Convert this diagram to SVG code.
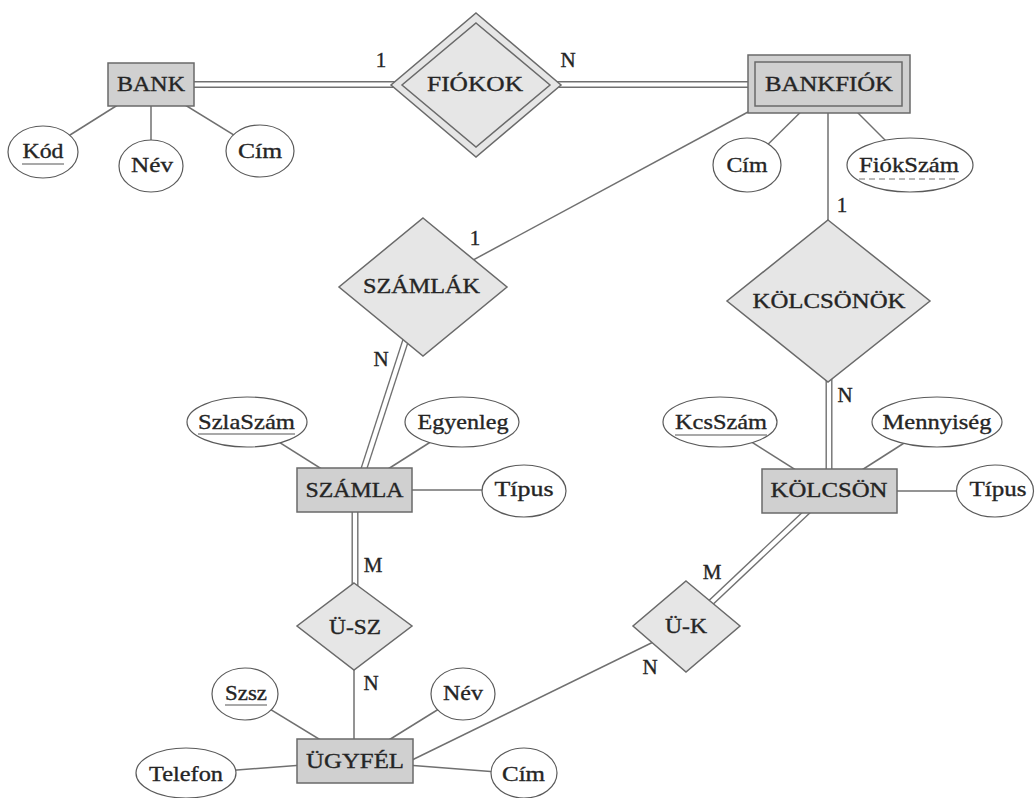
<svg xmlns="http://www.w3.org/2000/svg" width="1035" height="798" viewBox="0 0 1035 798">
  <style>
    .bg { fill: #ffffff; }
    .entity { fill: #d0d0d0; stroke: #6a6a6a; stroke-width: 1.5; }
    .entity-inner { fill: none; stroke: #6a6a6a; stroke-width: 1.5; }
    .rel { fill: #e6e6e6; stroke: #6a6a6a; stroke-width: 1.5; }
    .rel-inner { fill: none; stroke: #6a6a6a; stroke-width: 1.5; }
    .attr { fill: #ffffff; stroke: #5a5a5a; stroke-width: 1.2; }
    .link { fill: none; stroke: #707070; stroke-width: 1.5; }
    .dbl-outer { fill: none; stroke: #707070; stroke-width: 7; }
    .dbl-inner { fill: none; stroke: #ffffff; stroke-width: 4.2; }
    .key { stroke: #555555; stroke-width: 1.2; }
    .partial-key { stroke: #777777; stroke-width: 1.2; stroke-dasharray: 6 4; }
    text { font-family: "Liberation Serif", "DejaVu Serif", serif; font-size: 22px; fill: #252525; stroke: #252525; stroke-width: 0.35; text-anchor: middle; }
    .card { font-size: 21px; }
  </style>

  <rect class="bg" x="0" y="0" width="1035" height="798"/>

  <!-- connectors (drawn first, node shapes cover their ends) -->
  <g id="connectors">
    <!-- BANK attributes -->
    <line class="link" x1="43" y1="152" x2="151" y2="84"/>
    <line class="link" x1="151" y1="166" x2="151" y2="84"/>
    <line class="link" x1="260" y1="151" x2="151" y2="84"/>
    <!-- BANK = FIÓKOK = BANKFIÓK -->
    <line class="dbl-outer" x1="151" y1="84.5" x2="829" y2="84.5"/>
    <line class="dbl-inner" x1="151" y1="84.5" x2="829" y2="84.5"/>
    <!-- BANKFIÓK attributes -->
    <line class="link" x1="747" y1="165" x2="829" y2="84"/>
    <line class="link" x1="910" y1="165" x2="829" y2="84"/>
    <!-- BANKFIÓK - SZÁMLÁK -->
    <line class="link" x1="748" y1="112" x2="423" y2="287"/>
    <!-- BANKFIÓK - KÖLCSÖNÖK -->
    <line class="link" x1="828" y1="84" x2="828" y2="301"/>
    <!-- SZÁMLÁK = SZÁMLA -->
    <line class="dbl-outer" x1="423" y1="287" x2="357" y2="490"/>
    <line class="dbl-inner" x1="423" y1="287" x2="357" y2="490"/>
    <!-- KÖLCSÖNÖK = KÖLCSÖN -->
    <line class="dbl-outer" x1="829" y1="301" x2="829" y2="491"/>
    <line class="dbl-inner" x1="829" y1="301" x2="829" y2="491"/>
    <!-- SZÁMLA attributes -->
    <line class="link" x1="247" y1="422" x2="355" y2="490"/>
    <line class="link" x1="462" y1="422" x2="355" y2="490"/>
    <line class="link" x1="355" y1="490" x2="524" y2="490"/>
    <!-- KÖLCSÖN attributes -->
    <line class="link" x1="720" y1="422" x2="829" y2="491"/>
    <line class="link" x1="937" y1="422" x2="829" y2="491"/>
    <line class="link" x1="829" y1="491" x2="995" y2="491"/>
    <!-- SZÁMLA = Ü-SZ -->
    <line class="dbl-outer" x1="355" y1="490" x2="355" y2="626"/>
    <line class="dbl-inner" x1="355" y1="490" x2="355" y2="626"/>
    <!-- Ü-SZ - ÜGYFÉL -->
    <line class="link" x1="354" y1="626" x2="354" y2="761"/>
    <!-- KÖLCSÖN = Ü-K -->
    <line class="dbl-outer" x1="829" y1="491" x2="686" y2="626"/>
    <line class="dbl-inner" x1="829" y1="491" x2="686" y2="626"/>
    <!-- Ü-K - ÜGYFÉL -->
    <line class="link" x1="686" y1="626" x2="410" y2="761"/>
    <!-- ÜGYFÉL attributes -->
    <line class="link" x1="245" y1="694" x2="355" y2="761"/>
    <line class="link" x1="463" y1="694" x2="355" y2="761"/>
    <line class="link" x1="186" y1="774" x2="355" y2="761"/>
    <line class="link" x1="524" y1="774" x2="355" y2="761"/>
  </g>

  <!-- cardinality labels -->
  <g id="cardinalities">
    <text class="card" x="381" y="67">1</text>
    <text class="card" x="568" y="67">N</text>
    <text class="card" x="842" y="212">1</text>
    <text class="card" x="475" y="245">1</text>
    <text class="card" x="381" y="366">N</text>
    <text class="card" x="845" y="402">N</text>
    <text class="card" x="373" y="572">M</text>
    <text class="card" x="371" y="690">N</text>
    <text class="card" x="712" y="579">M</text>
    <text class="card" x="650" y="674">N</text>
  </g>

  <!-- entities -->
  <g id="bank">
    <rect class="entity" x="108" y="63" width="86" height="43"/>
    <text x="151" y="91" textLength="68" lengthAdjust="spacingAndGlyphs">BANK</text>
  </g>
  <g id="bankfiok">
    <rect class="entity" x="748" y="55" width="162" height="58"/>
    <rect class="entity-inner" x="755" y="62" width="147" height="44"/>
    <text x="829" y="91" textLength="128" lengthAdjust="spacingAndGlyphs">BANKFIÓK</text>
  </g>
  <g id="szamla">
    <rect class="entity" x="297" y="468" width="115" height="44"/>
    <text x="354.5" y="497" textLength="98" lengthAdjust="spacingAndGlyphs">SZÁMLA</text>
  </g>
  <g id="kolcson">
    <rect class="entity" x="762" y="469" width="135" height="44"/>
    <text x="829" y="497" textLength="117" lengthAdjust="spacingAndGlyphs">KÖLCSÖN</text>
  </g>
  <g id="ugyfel">
    <rect class="entity" x="297" y="739" width="116" height="44"/>
    <text x="355" y="768" textLength="98" lengthAdjust="spacingAndGlyphs">ÜGYFÉL</text>
  </g>

  <!-- relationships -->
  <g id="fiokok">
    <polygon class="rel" points="476,13 561,85 476,157 391,85"/>
    <polygon class="rel-inner" points="476,23 550,85 476,147 402,85"/>
    <text x="475" y="91" textLength="96" lengthAdjust="spacingAndGlyphs">FIÓKOK</text>
  </g>
  <g id="szamlak">
    <polygon class="rel" points="423,218 507,287 423,356 339,287"/>
    <text x="421.5" y="293" textLength="117" lengthAdjust="spacingAndGlyphs">SZÁMLÁK</text>
  </g>
  <g id="kolcsonok">
    <polygon class="rel" points="828,220 930,301 828,382 727,301"/>
    <text x="829" y="308" textLength="153" lengthAdjust="spacingAndGlyphs">KÖLCSÖNÖK</text>
  </g>
  <g id="u-sz">
    <polygon class="rel" points="354,583 412,626 354,670 297,626"/>
    <text x="355" y="634" textLength="52" lengthAdjust="spacingAndGlyphs">Ü-SZ</text>
  </g>
  <g id="u-k">
    <polygon class="rel" points="686,581 740,626 686,672 633,626"/>
    <text x="686" y="633" textLength="42" lengthAdjust="spacingAndGlyphs">Ü-K</text>
  </g>

  <!-- attributes -->
  <g id="bank-kod">
    <ellipse class="attr" cx="43" cy="152" rx="35" ry="26"/>
    <text x="43" y="158" textLength="41" lengthAdjust="spacingAndGlyphs">Kód</text>
    <line class="key" x1="22" y1="164" x2="64" y2="164"/>
  </g>
  <g id="bank-nev">
    <ellipse class="attr" cx="151" cy="166" rx="32" ry="26"/>
    <text x="152" y="172" textLength="42" lengthAdjust="spacingAndGlyphs">Név</text>
  </g>
  <g id="bank-cim">
    <ellipse class="attr" cx="260" cy="151" rx="34" ry="26"/>
    <text x="260" y="158" textLength="44" lengthAdjust="spacingAndGlyphs">Cím</text>
  </g>
  <g id="bankfiok-cim">
    <ellipse class="attr" cx="747" cy="165" rx="34" ry="27"/>
    <text x="747" y="172" textLength="41" lengthAdjust="spacingAndGlyphs">Cím</text>
  </g>
  <g id="bankfiok-fiokszam">
    <ellipse class="attr" cx="910" cy="165" rx="63" ry="27"/>
    <text x="909" y="172" textLength="100" lengthAdjust="spacingAndGlyphs">FiókSzám</text>
    <line class="partial-key" x1="859" y1="179" x2="959" y2="179"/>
  </g>
  <g id="szamla-szlaszam">
    <ellipse class="attr" cx="247" cy="422" rx="60" ry="25"/>
    <text x="246.5" y="429" textLength="97" lengthAdjust="spacingAndGlyphs">SzlaSzám</text>
    <line class="key" x1="198" y1="434" x2="295" y2="434"/>
  </g>
  <g id="szamla-egyenleg">
    <ellipse class="attr" cx="462" cy="422" rx="57" ry="25"/>
    <text x="463" y="429" textLength="91" lengthAdjust="spacingAndGlyphs">Egyenleg</text>
  </g>
  <g id="szamla-tipus">
    <ellipse class="attr" cx="524" cy="491" rx="42" ry="26"/>
    <text x="524" y="496" textLength="59" lengthAdjust="spacingAndGlyphs">Típus</text>
  </g>
  <g id="kolcson-kcsszam">
    <ellipse class="attr" cx="720" cy="422" rx="57" ry="25"/>
    <text x="721" y="429" textLength="92" lengthAdjust="spacingAndGlyphs">KcsSzám</text>
    <line class="key" x1="675" y1="435" x2="767" y2="435"/>
  </g>
  <g id="kolcson-mennyiseg">
    <ellipse class="attr" cx="937" cy="422" rx="65" ry="25"/>
    <text x="937" y="429" textLength="109" lengthAdjust="spacingAndGlyphs">Mennyiség</text>
  </g>
  <g id="kolcson-tipus">
    <ellipse class="attr" cx="995" cy="491" rx="38.5" ry="26"/>
    <text x="998" y="496" textLength="57" lengthAdjust="spacingAndGlyphs">Típus</text>
  </g>
  <g id="ugyfel-szsz">
    <ellipse class="attr" cx="245" cy="694" rx="33" ry="26"/>
    <text x="246" y="700" textLength="42" lengthAdjust="spacingAndGlyphs">Szsz</text>
    <line class="key" x1="225" y1="705" x2="267" y2="705"/>
  </g>
  <g id="ugyfel-nev">
    <ellipse class="attr" cx="463" cy="694" rx="32" ry="26"/>
    <text x="463" y="700" textLength="40" lengthAdjust="spacingAndGlyphs">Név</text>
  </g>
  <g id="ugyfel-telefon">
    <ellipse class="attr" cx="186" cy="773" rx="50" ry="25"/>
    <text x="186" y="781" textLength="74" lengthAdjust="spacingAndGlyphs">Telefon</text>
  </g>
  <g id="ugyfel-cim">
    <ellipse class="attr" cx="524" cy="773" rx="33" ry="25"/>
    <text x="523.5" y="781" textLength="43" lengthAdjust="spacingAndGlyphs">Cím</text>
  </g>
</svg>
